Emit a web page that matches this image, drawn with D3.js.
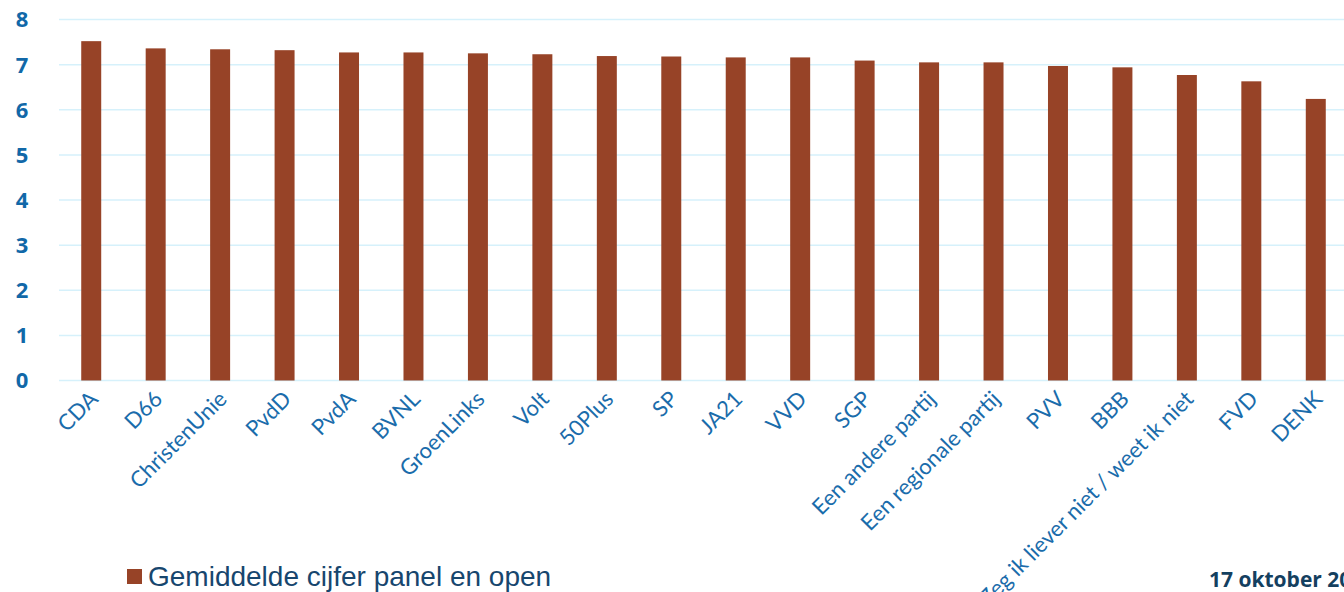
<!DOCTYPE html>
<html>
<head>
<meta charset="utf-8">
<script src="https://cdn.jsdelivr.net/npm/d3@7"></script>
<style>
  html, body { margin: 0; padding: 0; background: #fff; overflow: hidden; }
</style>
</head>
<body>
<script>
// party names, in chart order
const parties = ['CDA', 'D66', 'ChristenUnie', 'PvdD', 'PvdA', 'BVNL', 'GroenLinks', 'Volt',
  '50Plus', 'SP', 'JA21', 'VVD', 'SGP', 'Een andere partij', 'Een regionale partij', 'PVV',
  'BBB', 'Zeg ik liever niet / weet ik niet', 'FVD', 'DENK'];

// average grade per party
const grades = [7.52, 7.36, 7.34, 7.32, 7.27, 7.27, 7.25, 7.23, 7.19, 7.18,
  7.16, 7.16, 7.09, 7.05, 7.05, 6.97, 6.94, 6.77, 6.63, 6.24];

const yTicks = [0, 1, 2, 3, 4, 5, 6, 7, 8];
const seriesName = 'Gemiddelde cijfer panel en open';
const dateText = '17 oktober 2023';

const W = 1344, H = 592;
const plotLeft = 59, plotRight = 1348, plotTop = 19.5, plotBottom = 380.5;

const svg = d3.select('body').append('svg')
  .attr('width', W).attr('height', H);

const x = d3.scaleBand()
  .domain(parties)
  .range([plotLeft, plotRight])
  .paddingInner(0.69)
  .paddingOuter(0.345);

const y = d3.scaleLinear()
  .domain([0, 8])
  .range([plotBottom, plotTop]);

// gridlines
svg.append('g')
  .selectAll('line')
  .data(yTicks)
  .enter().append('line')
  .attr('x1', plotLeft).attr('x2', W)
  .attr('y1', d => y(d)).attr('y2', d => y(d))
  .attr('stroke', '#d6f1fb')
  .attr('stroke-width', 1.5);

// y axis labels
svg.append('g')
  .selectAll('text')
  .data(yTicks)
  .enter().append('text')
  .attr('x', 22)
  .attr('y', d => y(d))
  .attr('dy', '0.36em')
  .attr('text-anchor', 'middle')
  .style('font-family', '"Noto Sans", sans-serif')
  .style('font-weight', 'bold')
  .style('font-size', '22px')
  .style('fill', '#1168a8')
  .text(d => d);

// bars
svg.append('g')
  .selectAll('rect')
  .data(grades)
  .enter().append('rect')
  .attr('x', (d, i) => x(parties[i]))
  .attr('width', x.bandwidth())
  .attr('y', d => y(d))
  .attr('height', d => y(0) - y(d))
  .attr('fill', '#974327');

// x labels, rotated
svg.append('g')
  .selectAll('text')
  .data(parties)
  .enter().append('text')
  .attr('transform', d => `translate(${x(d) + x.bandwidth() / 2 + 8},${plotBottom + 20}) rotate(-45)`)
  .attr('text-anchor', 'end')
  .style('font-family', 'Lato, sans-serif')
  .style('font-size', '22px')
  .style('fill', '#1a6cab')
  .text(d => d);

// legend
const legend = svg.append('g').attr('transform', 'translate(127,569)');
legend.append('rect')
  .attr('width', 15).attr('height', 15)
  .attr('fill', '#974327');
legend.append('text')
  .attr('x', 21).attr('y', 17)
  .style('font-family', '"Liberation Sans", Arial, sans-serif')
  .style('font-size', '28px')
  .style('fill', '#17466e')
  .text(seriesName);

// date
svg.append('text')
  .attr('x', 1209).attr('y', 587)
  .style('font-family', '"Open Sans", sans-serif')
  .style('font-weight', 'bold')
  .style('font-size', '21px')
  .style('fill', '#14405f')
  .text(dateText);
</script>
</body>
</html>
